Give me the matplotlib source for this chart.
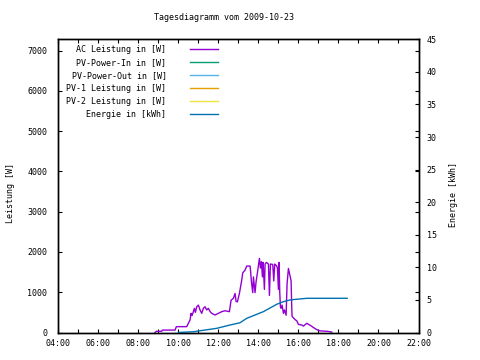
import matplotlib
matplotlib.use("Agg")
import matplotlib.pyplot as plt
from matplotlib.lines import Line2D

plt.rcParams['font.family'] = ['DejaVu Sans Mono']
plt.rcParams['font.size'] = 6

# AC Leistung [W], Uhrzeit -> Wert
ac_times = ["08:50", "08:54", "09:10", "09:12", "09:50", "09:54", "10:25", "10:30", "10:35", "10:38",
            "10:41", "10:45", "10:48", "10:51", "10:55", "11:00", "11:05", "11:10", "11:15", "11:20",
            "11:25", "11:30", "11:35", "11:40", "11:50", "12:00", "12:10", "12:20", "12:33", "12:38",
            "12:45", "12:50", "12:53", "12:57", "13:03", "13:10", "13:13", "13:20", "13:25", "13:35",
            "13:37", "13:39", "13:43", "13:45", "13:50", "13:53", "13:57", "14:03", "14:06", "14:09",
            "14:12", "14:14", "14:18", "14:20", "14:24", "14:30", "14:33", "14:36", "14:43", "14:46",
            "14:49", "14:55", "14:57", "15:00", "15:02", "15:04", "15:06", "15:08", "15:11", "15:15",
            "15:18", "15:23", "15:26", "15:30", "15:35", "15:38", "15:40", "15:41", "15:50", "15:55",
            "16:00", "16:10", "16:15", "16:25", "16:35", "16:44", "16:55", "17:05", "17:25", "17:35",
            "17:40"]
ac_values = [0, 30, 30, 60, 60, 145, 145, 228, 310, 476,
             420, 517, 600, 500, 640, 680, 560, 476, 600, 640,
             560, 600, 520, 476, 434, 476, 517, 540, 517, 800,
             850, 970, 770, 760, 970, 1300, 1480, 1550, 1650, 1650,
             1480, 1260, 990, 1380, 990, 1260, 1480, 1840, 1600, 1760,
             1380, 1740, 1070, 1700, 1740, 1700, 920, 1700, 1690, 1280,
             1700, 1650, 1600, 1070, 1740, 990, 640, 600, 680, 476,
             560, 430, 1220, 1590, 1400, 1280, 600, 400, 320, 290,
             200, 186, 160, 228, 180, 130, 70, 40, 30, 20,
             10]

# Energie [kWh]
energy_times = ["10:00", "10:45", "11:20", "11:55", "12:35", "13:05", "13:25", "14:15", "14:55",
                "15:15", "15:35", "16:25", "18:26"]
energy_values = [0, 0.12, 0.38, 0.64, 1.15, 1.5, 2.18, 3.2, 4.33, 4.73, 5.0, 5.25, 5.25]

series_labels = ["AC Leistung in [W]", "PV-Power-In in [W]", "PV-Power-Out in [W]",
                 "PV-1 Leistung in [W]", "PV-2 Leistung in [W]", "Energie in [kWh]"]
series_colors = ["#9400d3", "#009e73", "#56b4e9", "#e69f00", "#f0e442", "#0072b2"]

x_ticks = list(range(4, 23))
x_tick_labels = [f"{h:02d}:00" if h % 2 == 0 else "" for h in x_ticks]
y_ticks = [0, 1000, 2000, 3000, 4000, 5000, 6000, 7000]
y2_ticks = [0, 5, 10, 15, 20, 25, 30, 35, 40, 45]


def to_hours(t):
    h, m = t.split(":")
    return int(h) + int(m) / 60


fig = plt.figure(figsize=(4.8, 3.6), dpi=100)
ax = fig.add_axes([58.3 / 480, 1 - 332.5 / 360, 360.2 / 480, 293.2 / 360])
ax2 = ax.twinx()

ax.plot([to_hours(t) for t in ac_times], ac_values, color=series_colors[0], lw=1.0)
ax2.plot([to_hours(t) for t in energy_times], energy_values, color=series_colors[5], lw=1.0)

ax.set_xlim(4, 22)
ax.set_ylim(0, 7280)
ax2.set_ylim(0, 45)

ax.set_xticks(x_ticks)
ax.set_xticklabels(x_tick_labels)
ax.set_yticks(y_ticks)
ax2.set_yticks(y2_ticks)

ax.tick_params(direction="in", length=3, width=0.8, top=True, right=True, pad=5)
ax.tick_params(axis="y", pad=8)
ax2.tick_params(direction="in", length=3, width=0.8, pad=6)

for a in (ax, ax2):
    for s in a.spines.values():
        s.set_linewidth(1.0)

ax.set_ylabel("Leistung [W]")
ax.yaxis.set_label_coords(-0.119, 0.476)
ax2.set_ylabel("Energie [kWh]")
ax2.yaxis.set_label_coords(1.086, 0.472)

fig.text(223.7 / 480, 1 - 18 / 360, "Tagesdiagramm vom 2009-10-23", ha="center", va="center")

# Legende im gnuplot-Stil: Text rechtsbuendig, Linie dahinter
row_top = 49.3
row_step = 13.0
for i, (label, color) in enumerate(zip(series_labels, series_colors)):
    y_px = row_top + i * row_step
    fy = 1 - y_px / 360
    fig.text(166.5 / 480, fy, label, ha="right", va="center")
    fig.add_artist(Line2D([190 / 480, 218 / 480], [fy, fy], color=color, lw=1.0))

fig.savefig("out.png", dpi=100)
